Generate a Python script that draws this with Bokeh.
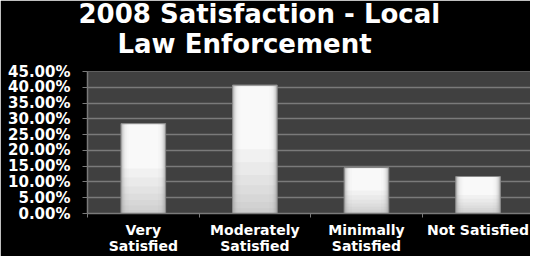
from bokeh.plotting import figure
from bokeh.models import Range1d, FixedTicker, NumeralTickFormatter, Title
from bokeh.embed import file_html
from bokeh.resources import INLINE

# ---- data ----
categories = ["Very\nSatisfied", "Moderately\nSatisfied", "Minimally\nSatisfied", "Not Satisfied"]
values = [0.285, 0.407, 0.145, 0.117]
y_ticks = [0.0, 0.05, 0.10, 0.15, 0.20, 0.25, 0.30, 0.35, 0.40, 0.45]
title_lines = ["2008 Satisfaction - Local", "Law Enforcement"]

n = len(categories)
centers = [i + 0.5 for i in range(n)]
bar_w = 0.4

p = figure(width=530, height=256, output_backend="svg", toolbar_location=None,
           x_range=Range1d(0, n - 0.03), y_range=Range1d(0, 0.45),
           title=None,
           min_border_left=87, min_border_right=0, min_border_top=0, min_border_bottom=42)

p.background_fill_color = "#404040"
p.border_fill_color = "#000000"
p.outline_line_color = None

# title: two lines plus a small spacer; the one nearest the frame is added first
spacer = Title(text=" ", text_font_size="2px", text_color="black", standoff=7)
t2 = Title(text=title_lines[1], align="left", offset=30, text_color="white",
           text_font="DejaVu Sans", text_font_size="26px", text_font_style="bold",
           standoff=3)
t1 = Title(text=title_lines[0], align="left", offset=-9, text_color="white",
           text_font="DejaVu Sans", text_font_size="26px", text_font_style="bold",
           standoff=-7)
p.add_layout(spacer, "above")
p.add_layout(t2, "above")
p.add_layout(t1, "above")

# grid
p.xgrid.visible = False
p.ygrid.ticker = FixedTicker(ticks=y_ticks)
p.ygrid.grid_line_color = "#7a7a7a"
p.ygrid.grid_line_width = 1.5

# y axis
ya = p.yaxis[0]
ya.ticker = FixedTicker(ticks=y_ticks)
ya.formatter = NumeralTickFormatter(format="0.00%")
ya.axis_line_color = "#7a7a7a"
ya.axis_line_width = 1.5
ya.major_tick_line_color = "#7a7a7a"
ya.major_tick_out = 5
ya.major_tick_in = 0
ya.minor_tick_line_color = None
ya.major_label_text_color = "white"
ya.major_label_text_font = "DejaVu Sans"
ya.major_label_text_font_style = "bold"
ya.major_label_text_font_size = "15px"
ya.major_label_standoff = 12

# x axis: labels at category centres, tick marks at category boundaries
xa = p.xaxis[0]
xa.ticker = FixedTicker(ticks=centers, minor_ticks=list(range(n)))
xa.major_label_overrides = {c: lab for c, lab in zip(centers, categories)}
xa.axis_line_color = "#7a7a7a"
xa.axis_line_width = 1.5
xa.major_tick_line_color = None
xa.major_tick_out = 0
xa.major_tick_in = 0
xa.minor_tick_line_color = "#7a7a7a"
xa.minor_tick_out = 4
xa.minor_tick_in = 0
xa.major_label_text_color = "white"
xa.major_label_text_font = "DejaVu Sans"
xa.major_label_text_font_style = "bold"
xa.major_label_text_font_size = "14px"
xa.major_label_text_line_height = 1.0
xa.major_label_standoff = 4

# bars: grey base, lighter inner layers, darker bottom shading
p.vbar(x=centers, top=values, width=bar_w, fill_color="#b0b0b0", line_color="#8c8c8c")
for k in [0.96, 0.92, 0.88, 0.84, 0.8, 0.74, 0.66]:
    p.vbar(x=centers, top=[v * 0.99 for v in values], width=bar_w * k,
           fill_color="white", fill_alpha=0.3, line_color=None)
for f in [0.5, 0.4, 0.3, 0.22, 0.15, 0.09, 0.04]:
    p.vbar(x=centers, top=[v * f for v in values], width=bar_w * 0.96,
           fill_color="#9a9a9a", fill_alpha=0.08, line_color=None)

open("out.html", "w").write(file_html(p, INLINE))
